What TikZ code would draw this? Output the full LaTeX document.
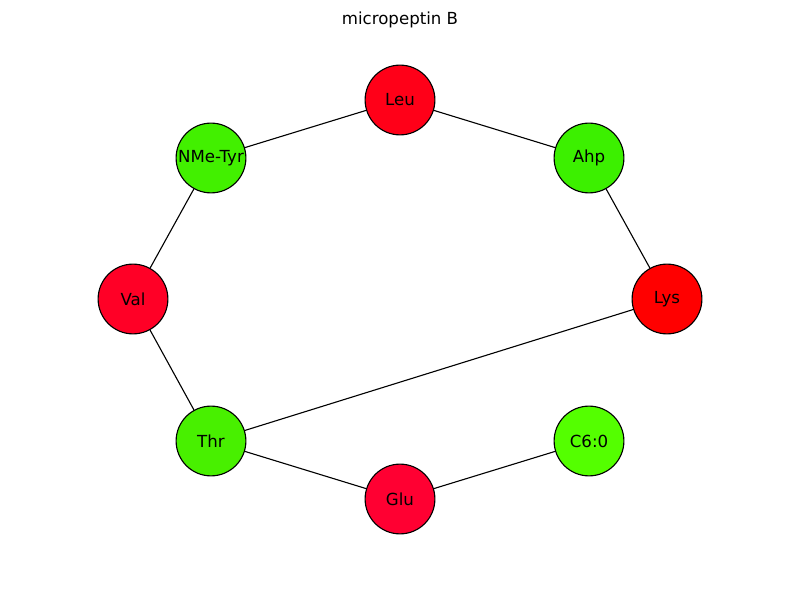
\documentclass[tikz,border=0pt]{standalone}
\usepackage{fontspec}
\setmainfont{DejaVu Sans}
\usepackage{xcolor}
\usetikzlibrary{positioning}
\definecolor{leucol}{RGB}{255,0,24}
\definecolor{ahpcol}{RGB}{60,240,0}
\definecolor{lyscol}{RGB}{255,0,0}
\definecolor{c6col}{RGB}{84,255,0}
\definecolor{glucol}{RGB}{255,0,50}
\definecolor{thrcol}{RGB}{72,240,0}
\definecolor{valcol}{RGB}{255,0,38}
\definecolor{tyrcol}{RGB}{66,240,0}
\tikzset{
    residue/.style={draw, circle, line width=0.8pt, minimum size=50.4pt, inner sep=0pt, font=\fontsize{12}{14}\selectfont}
}

\begin{document}
\begin{tikzpicture}[x=0.01in, y=-0.01in]
                        \useasboundingbox (0, 0) rectangle (800, 600);
                        \node[font=\fontsize{12}{14}\selectfont] (title) at (400, 20) {micropeptin B};

                        \node[residue, fill=leucol] (leu) at (400, 100) {Leu};
                        \node[residue, fill=ahpcol] (ahp) at (589, 158) {Ahp};
                        \node[residue, fill=lyscol] (lys) at (667, 299) {Lys};
                        \node[residue, fill=c6col] (c6) at (589, 441) {C6:0};
                        \node[residue, fill=glucol] (glu) at (400, 499) {Glu};
                        \node[residue, fill=thrcol] (thr) at (211, 441) {Thr};
                        \node[residue, fill=valcol] (val) at (133, 299) {Val};
                        \node[residue, fill=tyrcol] (tyr) at (211, 158) {NMe-Tyr};

                        \draw[line width=0.8pt]
                        (tyr) -- (leu)
                        (leu) -- (ahp)
                        (ahp) -- (lys)
                        (lys) -- (thr)
                        (tyr) -- (val)
                        (val) -- (thr)
                        (thr) -- (glu)
                        (glu) -- (c6);
                    \end{tikzpicture}
\end{document}
